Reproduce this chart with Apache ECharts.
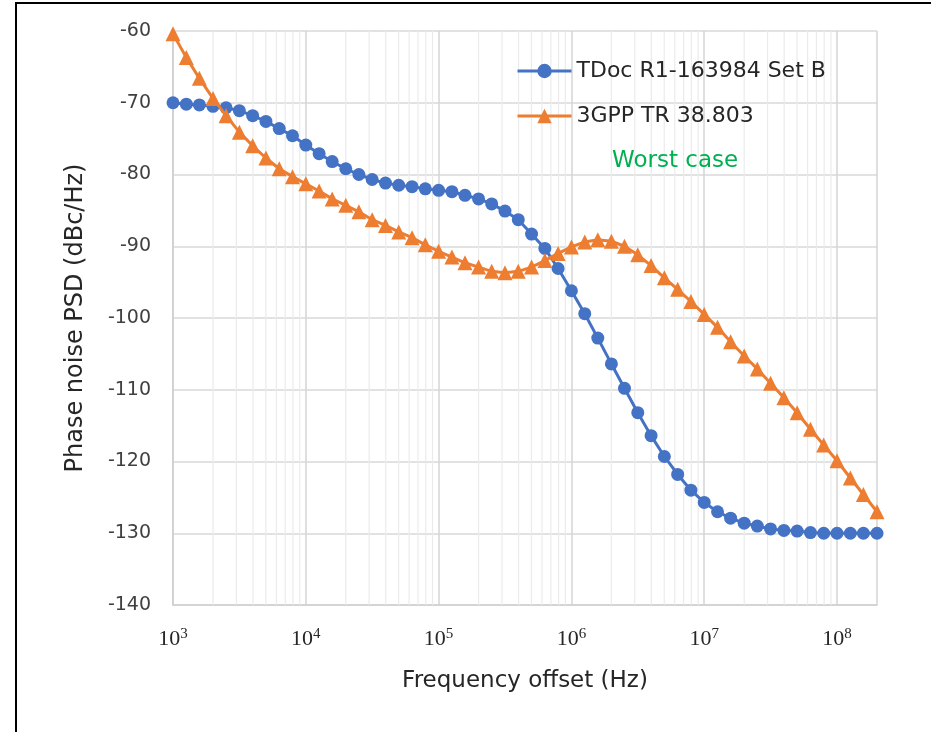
<!DOCTYPE html>
<html lang="en">
<head>
  <meta charset="UTF-8">
  <title>Phase noise PSD</title>
  <script src="https://cdn.jsdelivr.net/npm/echarts@6/dist/echarts.min.js"></script>
  <style>
    body { margin: 0; padding: 0; background: #fff; }
    #main { width: 931px; height: 732px; }
  </style>
</head>
<body>
<div id="main"></div>
<script>
// frequency offsets (Hz), 10 points per decade
var freqs = [
  1.00e3, 1.26e3, 1.58e3, 2.00e3, 2.51e3, 3.16e3, 3.98e3, 5.01e3, 6.31e3, 7.94e3,
  1.00e4, 1.26e4, 1.58e4, 2.00e4, 2.51e4, 3.16e4, 3.98e4, 5.01e4, 6.31e4, 7.94e4,
  1.00e5, 1.26e5, 1.58e5, 2.00e5, 2.51e5, 3.16e5, 3.98e5, 5.01e5, 6.31e5, 7.94e5,
  1.00e6, 1.26e6, 1.58e6, 2.00e6, 2.51e6, 3.16e6, 3.98e6, 5.01e6, 6.31e6, 7.94e6,
  1.00e7, 1.26e7, 1.58e7, 2.00e7, 2.51e7, 3.16e7, 3.98e7, 5.01e7, 6.31e7, 7.94e7,
  1.00e8, 1.26e8, 1.58e8, 2.00e8
];

// TDoc R1-163984 Set B
var tdocB = [
  -70.0, -70.2, -70.3, -70.5, -70.7, -71.1, -71.8, -72.6, -73.6, -74.6,
  -75.9, -77.1, -78.2, -79.2, -80.0, -80.7, -81.2, -81.5, -81.7, -82.0,
  -82.2, -82.4, -82.9, -83.4, -84.1, -85.1, -86.3, -88.3, -90.3, -93.1,
  -96.2, -99.4, -102.8, -106.4, -109.8, -113.2, -116.4, -119.3, -121.8, -124.0,
  -125.7, -127.0, -127.9, -128.6, -129.0, -129.4, -129.6, -129.7, -129.9, -130.0,
  -130.0, -130.0, -130.0, -130.0
];

// 3GPP TR 38.803
var tr38803 = [
  -60.4, -63.7, -66.6, -69.4, -71.8, -74.1, -76.0, -77.7, -79.2, -80.3,
  -81.3, -82.3, -83.4, -84.3, -85.2, -86.3, -87.1, -88.0, -88.8, -89.8,
  -90.7, -91.5, -92.3, -92.9, -93.5, -93.7, -93.5, -92.9, -92.0, -91.0,
  -90.1, -89.4, -89.1, -89.3, -90.0, -91.2, -92.7, -94.4, -96.0, -97.7,
  -99.5, -101.3, -103.3, -105.3, -107.1, -109.1, -111.1, -113.2, -115.5, -117.7,
  -119.9, -122.3, -124.6, -127.0
];

var seriesNames = ['TDoc R1-163984 Set B', '3GPP TR 38.803'];

// minor (2..9) gridlines of each decade
var minorGrid = [];
for (var d = 3; d <= 8; d++) {
  for (var m = 2; m <= 9; m++) {
    var v = m * Math.pow(10, d);
    if (v < 2e8) minorGrid.push(v);
  }
}

var font = 'DejaVu Sans';

function pairs(xs, ys) {
  return xs.map(function (x, i) { return [x, ys[i]]; });
}

var chart = echarts.init(document.getElementById('main'));

var option = {
  animation: false,
  backgroundColor: '#fff',
  textStyle: { fontFamily: font },
  grid: { left: 173, right: 54, top: 31, bottom: 127 },
  legend: {
    orient: 'vertical',
    left: 516,
    top: 57,
    padding: 0,
    z: 10,
    itemWidth: 54,
    itemHeight: 18,
    itemGap: 17,
    data: seriesNames,
    lineStyle: { width: 3 },
    textStyle: { fontSize: 22, color: '#262626', fontFamily: font, lineHeight: 28 }
  },
  graphic: [
    {
      type: 'rect',
      shape: { x: 16, y: 3, width: 1200, height: 1200 },
      style: { fill: 'none', stroke: '#000', lineWidth: 2 },
      silent: true
    },
    {
      type: 'text',
      left: 612,
      top: 150,
      z: 10,
      style: { text: 'Worst case', fill: '#00b050', fontSize: 23, fontFamily: font }
    }
  ],
  xAxis: {
    type: 'log',
    logBase: 10,
    min: 1e3,
    max: 2e8,
    name: 'Frequency offset (Hz)',
    nameLocation: 'middle',
    nameGap: 65,
    nameTextStyle: { fontSize: 23, color: '#262626', fontFamily: font },
    axisLine: { show: true, lineStyle: { color: '#d0d0d0', width: 1.5 } },
    axisTick: { show: false },
    splitLine: { show: true, lineStyle: { color: '#d4d4d4', width: 1.5 } },
    axisLabel: {
      margin: 22,
      showMaxLabel: false,
      formatter: function (value) {
        var e = Math.log10(value);
        if (Math.abs(e - Math.round(e)) > 1e-6) return '';
        return '{b|10}{s|' + Math.round(e) + '}';
      },
      rich: {
        b: { fontSize: 22, fontFamily: 'Liberation Serif', color: '#262626' },
        s: { fontSize: 15, fontFamily: 'Liberation Serif', color: '#262626', padding: [0, 0, 10, 0] }
      }
    }
  },
  yAxis: {
    type: 'value',
    min: -140,
    max: -60,
    interval: 10,
    name: 'Phase noise PSD (dBc/Hz)',
    nameLocation: 'middle',
    nameGap: 85,
    nameTextStyle: { fontSize: 24, color: '#262626', fontFamily: font },
    axisLine: { show: true, lineStyle: { color: '#d0d0d0', width: 1.5 } },
    axisTick: { show: false },
    splitLine: { show: true, lineStyle: { color: '#d9d9d9', width: 1.5 } },
    axisLabel: { margin: 22, fontSize: 19, color: '#404040', fontFamily: font }
  },
  series: [
    {
      name: 'minor',
      type: 'custom',
      z: 1,
      silent: true,
      data: minorGrid.map(function (v) { return [v]; }),
      encode: { x: 0 },
      renderItem: function (params, api) {
        var x = api.value(0);
        var p1 = api.coord([x, -140]);
        var p2 = api.coord([x, -60]);
        return {
          type: 'line',
          shape: { x1: p1[0], y1: p1[1], x2: p2[0], y2: p2[1] },
          style: { stroke: '#ebebeb', lineWidth: 1.2 }
        };
      }
    },
    {
      name: seriesNames[0],
      type: 'line',
      z: 3,
      data: pairs(freqs, tdocB),
      symbol: 'circle',
      symbolSize: 13,
      itemStyle: { color: '#4472c4' },
      lineStyle: { color: '#4472c4', width: 3 }
    },
    {
      name: seriesNames[1],
      type: 'line',
      z: 4,
      data: pairs(freqs, tr38803),
      symbol: 'triangle',
      symbolSize: 15,
      itemStyle: { color: '#ed7d31' },
      lineStyle: { color: '#ed7d31', width: 3 }
    }
  ]
};

chart.setOption(option);
</script>
</body>
</html>
